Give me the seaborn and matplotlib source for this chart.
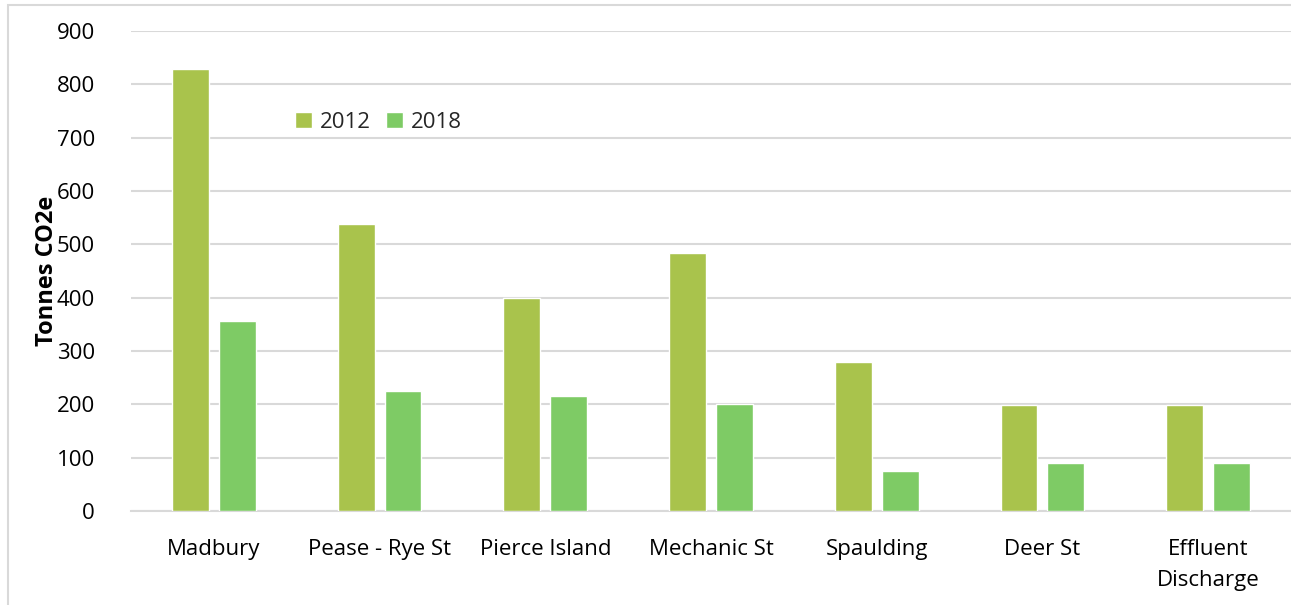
import matplotlib
matplotlib.use("Agg")
import matplotlib.pyplot as plt
from matplotlib.patches import Rectangle
import seaborn as sns
import pandas as pd

# Emissions by facility
facilities = ["Madbury", "Pease - Rye St", "Pierce Island", "Mechanic St",
              "Spaulding", "Deer St", "Effluent\nDischarge"]
years = ["2012", "2018"]
tonnes_2012 = [828, 538, 400, 484, 279, 199, 199]
tonnes_2018 = [356, 225, 216, 201, 75, 90, 90]
y_ticks = [0, 100, 200, 300, 400, 500, 600, 700, 800, 900]
palette = ["#A9C34C", "#7ECB65"]

df = pd.DataFrame({
    "Facility": facilities * 2,
    "Year": [years[0]] * len(facilities) + [years[1]] * len(facilities),
    "Tonnes": tonnes_2012 + tonnes_2018,
})

sns.set_theme(style="white")
plt.rcParams["font.family"] = ["Open Sans", "DejaVu Sans"]

W, H = 1291, 605
fig = plt.figure(figsize=(W / 100, H / 100), dpi=100)
ax = fig.add_axes([131 / W, 1 - 511 / H, 1 - 131 / W, (511 - 31) / H])

sns.barplot(data=df, x="Facility", y="Tonnes", hue="Year", order=facilities,
            hue_order=years, palette=palette, width=0.566, gap=0.212,
            saturation=1, ax=ax, zorder=3)

ax.set_ylim(0, 900)
ax.set_xlim(-0.5, len(facilities) - 0.5)
ax.set_yticks(y_ticks)
ax.yaxis.grid(True, color="#D9D9D9", linewidth=1.5, zorder=0)
ax.set_axisbelow(True)
for side in ["top", "right", "left"]:
    ax.spines[side].set_visible(False)
ax.spines["bottom"].set_color("#D9D9D9")
ax.spines["bottom"].set_linewidth(1.5)

ax.tick_params(axis="y", length=0, pad=26, labelsize=16, labelcolor="black")
ax.tick_params(axis="x", length=0, pad=20, labelsize=16, labelcolor="black")
for lbl in ax.get_xticklabels():
    lbl.set_linespacing(1.65)

ax.set_xlabel("")
ax.set_ylabel("Tonnes CO2e", fontsize=17, fontweight="bold", color="black",
              labelpad=-2)

leg = ax.legend(loc="upper left", bbox_to_anchor=(0.134, 0.85), ncol=2,
                frameon=False, fontsize=16, handlelength=0.75,
                handleheight=0.75, handletextpad=0.35, columnspacing=0.7,
                borderaxespad=0)

# Light frame around the chart area
fig.patches.append(Rectangle((8 / W, -0.05), 1.1, (H - 5) / H + 0.05,
                             transform=fig.transFigure, fill=False,
                             edgecolor="#D9D9D9", linewidth=1.5))

fig.savefig("out.png", dpi=100)
